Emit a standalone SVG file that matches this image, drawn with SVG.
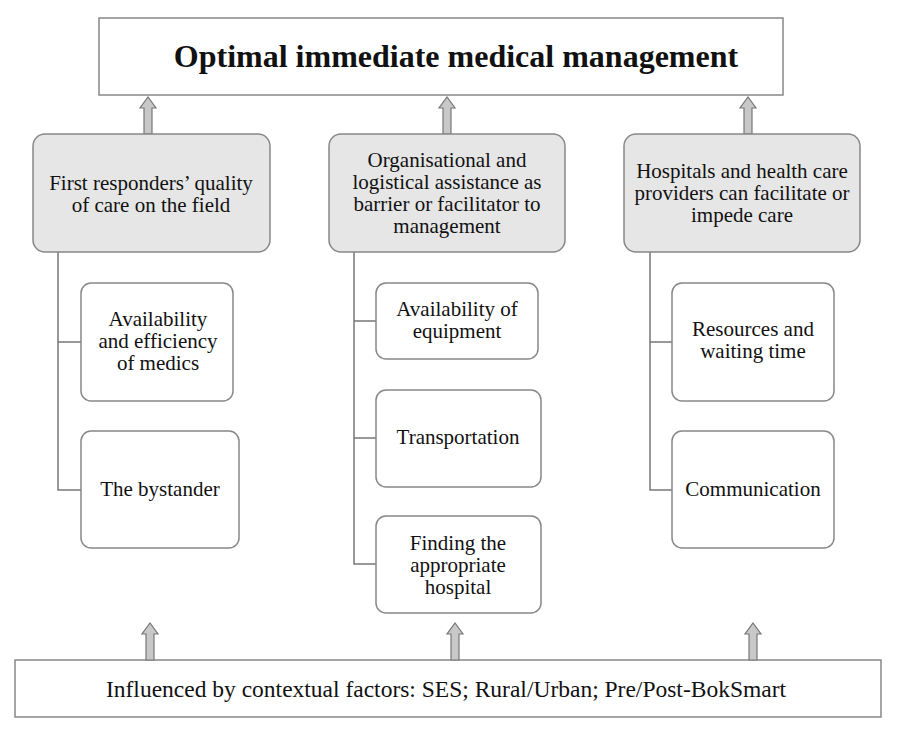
<svg xmlns="http://www.w3.org/2000/svg" width="898" height="732" viewBox="0 0 898 732">
<style>
text{font-family:"Liberation Serif","Times New Roman",serif;fill:#111;text-anchor:middle}
.t{font-size:21px}
.plain{fill:#fff;stroke:#888;stroke-width:1.5}
.grey{fill:#e6e6e6;stroke:#888;stroke-width:1.5}
.ln{stroke:#777;stroke-width:1.5;fill:none}
.ar{fill:#c8c8c8;stroke:#777;stroke-width:1.2}
</style>
<defs>
<path id="arw" d="M-4,0 V-26 H-8 L0,-37 L8,-26 H4 V0 Z"/>
</defs>
<rect width="898" height="732" fill="#fff"/>
<g id="top"><rect class="plain" x="99" y="18" width="684" height="77"/><text x="456" y="67" style="font-size:32px;font-weight:bold">Optimal immediate medical management</text></g>
<g id="bottom"><rect class="plain" x="15" y="660" width="866" height="57"/><text x="446" y="697" style="font-size:23.5px">Influenced by contextual factors: SES; Rural/Urban; Pre/Post-BokSmart</text></g>
<g id="connectors">
<use href="#arw" class="ar" x="148" y="134"/><use href="#arw" class="ar" x="447" y="134"/><use href="#arw" class="ar" x="748" y="134"/>
<use href="#arw" class="ar" x="150" y="660"/><use href="#arw" class="ar" x="455" y="660"/><use href="#arw" class="ar" x="753" y="660"/>
<path class="ln" d="M58,252 V490 H81 M58,342 H81"/>
<path class="ln" d="M354,252 V564 H376 M354,321 H376 M354,438 H376"/>
<path class="ln" d="M650,252 V490 H672 M650,342 H672"/>
</g>
<g id="g1"><rect class="grey" x="33" y="134" width="237" height="118" rx="12"/><text class="t" x="151" y="190">First responders’ quality</text><text class="t" x="151" y="212">of care on the field</text></g>
<g id="g2"><rect class="grey" x="329" y="134" width="236" height="118" rx="12"/><text class="t" x="447" y="167">Organisational and</text><text class="t" x="447" y="189">logistical assistance as</text><text class="t" x="447" y="211">barrier or facilitator to</text><text class="t" x="447" y="233">management</text></g>
<g id="g3"><rect class="grey" x="624" y="134" width="236" height="118" rx="12"/><text class="t" x="742" y="178">Hospitals and health care</text><text class="t" x="742" y="200">providers can facilitate or</text><text class="t" x="742" y="222">impede care</text></g>
<g id="c1"><rect class="plain" x="81" y="283" width="152" height="118" rx="10"/><text class="t" x="158" y="326">Availability</text><text class="t" x="158" y="348">and efficiency</text><text class="t" x="158" y="370">of medics</text></g>
<g id="c2"><rect class="plain" x="81" y="431" width="158" height="117" rx="10"/><text class="t" x="160" y="496">The bystander</text></g>
<g id="c3"><rect class="plain" x="376" y="283" width="162" height="76" rx="10"/><text class="t" x="457" y="316">Availability of</text><text class="t" x="457" y="338">equipment</text></g>
<g id="c4"><rect class="plain" x="376" y="390" width="165" height="97" rx="10"/><text class="t" x="458" y="444">Transportation</text></g>
<g id="c5"><rect class="plain" x="376" y="516" width="165" height="97" rx="10"/><text class="t" x="458" y="550">Finding the</text><text class="t" x="458" y="572">appropriate</text><text class="t" x="458" y="594">hospital</text></g>
<g id="c6"><rect class="plain" x="672" y="283" width="162" height="118" rx="10"/><text class="t" x="753" y="336">Resources and</text><text class="t" x="753" y="358">waiting time</text></g>
<g id="c7"><rect class="plain" x="672" y="431" width="162" height="117" rx="10"/><text class="t" x="753" y="496">Communication</text></g>
</svg>
